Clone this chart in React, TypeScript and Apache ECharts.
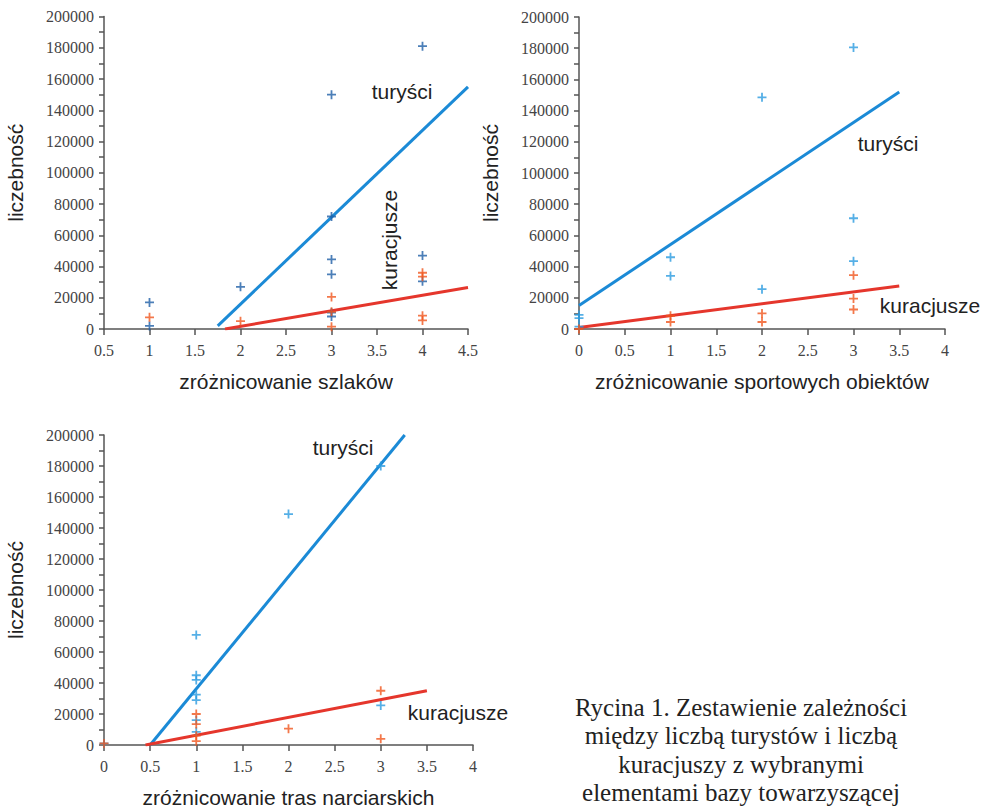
import React, { useEffect, useRef } from "react";
import * as echarts from "echarts";

// Chart 1: zróżnicowanie szlaków
const tur1: number[][] = [[1, 17000], [1, 2000], [2, 27000], [3, 150000], [3, 72000], [3, 44500], [3, 35000], [3, 10500], [3, 8000], [4, 181000], [4, 47000], [4, 30500]];
const kur1: number[][] = [[1, 7500], [2, 5000], [3, 20500], [3, 11000], [3, 1500], [4, 36000], [4, 33500], [4, 8500], [4, 5500]];
const turLine1: number[][] = [[1.75, 2000], [4.5, 155000]];
const kurLine1: number[][] = [[1.83, 0], [4.5, 26500]];

// Chart 2: zróżnicowanie sportowych obiektów
const tur2: number[][] = [[0, 9000], [0, 7000], [0, 1500], [1, 46000], [1, 34000], [2, 148500], [2, 25500], [3, 180500], [3, 71000], [3, 43500]];
const kur2: number[][] = [[0, 0], [1, 8500], [1, 4500], [2, 10000], [2, 4500], [3, 34500], [3, 19500], [3, 12500]];
const turLine2: number[][] = [[0, 15000], [3.5, 152000]];
const kurLine2: number[][] = [[0, 1000], [3.5, 27500]];

// Chart 3: zróżnicowanie tras narciarskich
const tur3: number[][] = [[0, 1000], [1, 71000], [1, 45000], [1, 42000], [1, 32500], [1, 29000], [1, 16000], [1, 8500], [2, 149000], [3, 180000], [3, 25500]];
const kur3: number[][] = [[0, 1000], [1, 20000], [1, 13500], [1, 6000], [1, 2500], [2, 10500], [3, 35000], [3, 4000]];
const turLine3: number[][] = [[0.5, 0], [3.26, 200000]];
const kurLine3: number[][] = [[0.45, 0], [3.5, 35000]];

const xNames = ["zróżnicowanie szlaków", "zróżnicowanie sportowych obiektów", "zróżnicowanie tras narciarskich"];
const xRanges = [[0.5, 4.5], [0, 4], [0, 4]];
const yName = "liczebność";
const serTur = "turyści";
const serKur = "kuracjusze";
const captionLines = [
  "Rycina 1. Zestawienie zależności",
  "między liczbą turystów i liczbą",
  "kuracjuszy z wybranymi",
  "elementami bazy towarzyszącej",
];

const PLUS = "path://M4,0H6V4H10V6H6V10H4V6H0V4H4Z";
const AX = "#555";
const SANS = "Liberation Sans, Arial, sans-serif";
const SERIF = "Liberation Serif, Times New Roman, serif";

export default function App() {
  const ref = useRef<HTMLDivElement>(null);
  useEffect(() => {
    if (!ref.current) return;
    const chart = echarts.init(ref.current, null, { renderer: "svg" });
    const grids = [
      { left: 104, top: 16.5, width: 364, height: 312.5 },
      { left: 579, top: 17, width: 366, height: 312 },
      { left: 104, top: 435, width: 369, height: 310 },
    ];
    const xAxis = grids.map((_, i) => ({
      type: "value",
      gridIndex: i,
      min: xRanges[i][0],
      max: xRanges[i][1],
      interval: 0.5,
      name: xNames[i],
      nameLocation: "middle",
      nameGap: 42,
      nameTextStyle: { fontFamily: SANS, fontSize: 21, color: "#222" },
      axisLine: { show: true, onZero: false, lineStyle: { color: AX, width: 1.5 } },
      axisTick: { show: true, length: 6, lineStyle: { color: AX, width: 1.5 } },
      splitLine: { show: false },
      axisLabel: { fontFamily: SERIF, fontSize: 16, color: "#444", margin: 13, formatter: (v: number) => String(v) },
    }));
    const yAxis = grids.map((_, i) => ({
      type: "value",
      gridIndex: i,
      min: 0,
      max: 200000,
      interval: 20000,
      name: yName,
      nameLocation: "middle",
      nameRotate: 90,
      nameGap: 78,
      nameTextStyle: { fontFamily: SANS, fontSize: 21, color: "#222" },
      axisLine: { show: true, onZero: false, lineStyle: { color: AX, width: 1.5 } },
      axisTick: { show: true, length: 5, lineStyle: { color: AX, width: 1.5 } },
      minorTick: { show: true, splitNumber: 2, length: 5, lineStyle: { color: AX, width: 1.5 } },
      splitLine: { show: false },
      axisLabel: { fontFamily: SERIF, fontSize: 16, color: "#444", margin: 10, formatter: (v: number) => String(v) },
    }));
    const turPts = [tur1, tur2, tur3];
    const kurPts = [kur1, kur2, kur3];
    const turLines = [turLine1, turLine2, turLine3];
    const kurLines = [kurLine1, kurLine2, kurLine3];
    const ptBlue = ["#1f5fa6", "#2a9be0", "#2a9be0"];
    const series: any[] = [];
    for (let i = 0; i < 3; i++) {
      series.push({
        type: "line", name: serTur, xAxisIndex: i, yAxisIndex: i, data: turLines[i],
        showSymbol: false, symbol: "none", lineStyle: { color: "#1b8ad6", width: 3 }, z: 2,
      });
      series.push({
        type: "line", name: serKur, xAxisIndex: i, yAxisIndex: i, data: kurLines[i],
        showSymbol: false, symbol: "none", lineStyle: { color: "#e5362c", width: 3 }, z: 2,
      });
      series.push({
        type: "scatter", name: serTur, xAxisIndex: i, yAxisIndex: i, data: turPts[i],
        symbol: PLUS, symbolSize: 9, itemStyle: { color: ptBlue[i] }, z: 3,
      });
      series.push({
        type: "scatter", name: serKur, xAxisIndex: i, yAxisIndex: i, data: kurPts[i],
        symbol: PLUS, symbolSize: 9, itemStyle: { color: "#f0561e" }, z: 3,
      });
    }
    const lbl = (x: number, y: number, text: string, rot = 0) => ({
      type: "text", x, y, rotation: rot,
      style: { text, fontFamily: SANS, fontSize: 21, fill: "#222", textAlign: "center", textVerticalAlign: "middle" },
    });
    chart.setOption({
      animation: false,
      backgroundColor: "#fff",
      grid: grids,
      xAxis,
      yAxis,
      series,
      graphic: [
        lbl(402, 91, serTur),
        lbl(389, 240, serKur, Math.PI / 2),
        lbl(888, 143, serTur),
        lbl(930, 305, serKur),
        lbl(343, 447, serTur),
        lbl(458, 712, serKur),
        {
          type: "text", x: 741, y: 693,
          style: {
            text: captionLines.join("\n"), fontFamily: SERIF, fontSize: 25, lineHeight: 28.5,
            fill: "#222", textAlign: "center", textVerticalAlign: "top",
          },
        },
      ],
    });
    return () => chart.dispose();
  }, []);
  return <div ref={ref} style={{ position: "absolute", left: 0, top: 0, width: 992, height: 809 }} />;
}
